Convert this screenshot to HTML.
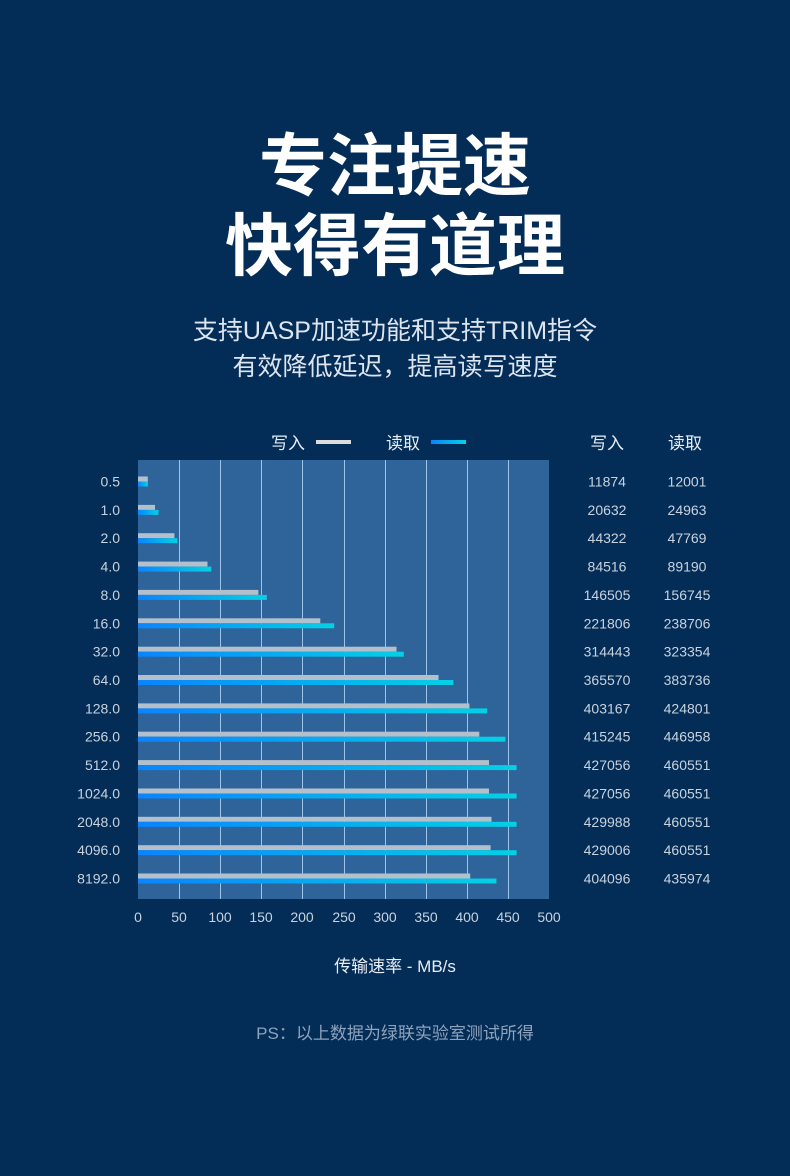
<!DOCTYPE html>
<html><head><meta charset="utf-8"><style>
html,body{margin:0;padding:0;background:#032c57;}
body{width:790px;height:1171px;overflow:hidden;font-family:"Liberation Sans","Noto Sans CJK SC",sans-serif;}
</style></head><body>
<svg width="790" height="1171" xmlns="http://www.w3.org/2000/svg" font-family="Liberation Sans, Noto Sans CJK SC, sans-serif">
<defs><linearGradient id="g" x1="0" x2="1"><stop offset="0" stop-color="#0a84ff"/><stop offset="1" stop-color="#05d0e4"/></linearGradient></defs>
<rect width="790" height="1171" fill="#032c57"/>
<g fill="#fff" font-weight="bold" font-size="68" text-anchor="middle" font-family="Noto Sans CJK SC, sans-serif">
<text x="395" y="190">专注提速</text>
<text x="395" y="270">快得有道理</text>
</g>
<g fill="#dde5ef" font-size="25" text-anchor="middle" font-family="Liberation Sans, Noto Sans CJK SC, sans-serif">
<text x="395" y="339">支持UASP加速功能和支持TRIM指令</text>
<text x="395" y="375">有效降低延迟，提高读写速度</text>
</g>
<g fill="#e8eef5" font-size="17" font-family="Noto Sans CJK SC, sans-serif">
<text x="271" y="449">写入</text><rect x="316" y="440" width="35" height="4" fill="#dcdcdc"/>
<text x="386" y="449">读取</text><rect x="431" y="440" width="35" height="4" fill="url(#g)"/>
<text x="590" y="449">写入</text><text x="668" y="449">读取</text>
</g>
<rect x="138" y="460" width="411" height="439" fill="#2e6499"/>
<g stroke="#9cc3ea" stroke-width="1">
<line x1="179.5" y1="460" x2="179.5" y2="899"/><line x1="220.5" y1="460" x2="220.5" y2="899"/><line x1="261.5" y1="460" x2="261.5" y2="899"/><line x1="302.5" y1="460" x2="302.5" y2="899"/><line x1="344.5" y1="460" x2="344.5" y2="899"/><line x1="385.5" y1="460" x2="385.5" y2="899"/><line x1="426.5" y1="460" x2="426.5" y2="899"/><line x1="467.5" y1="460" x2="467.5" y2="899"/><line x1="508.5" y1="460" x2="508.5" y2="899"/>
</g>
<g fill="#b4bfcc">
<rect x="138" y="476.5" width="9.8" height="5"/><rect x="138" y="504.9" width="17" height="5"/><rect x="138" y="533.2" width="36.4" height="5"/><rect x="138" y="561.6" width="69.5" height="5"/><rect x="138" y="589.9" width="120.4" height="5"/><rect x="138" y="618.3" width="182.3" height="5"/><rect x="138" y="646.7" width="258.5" height="5"/><rect x="138" y="675" width="300.5" height="5"/><rect x="138" y="703.4" width="331.4" height="5"/><rect x="138" y="731.7" width="341.3" height="5"/><rect x="138" y="760.1" width="351" height="5"/><rect x="138" y="788.5" width="351" height="5"/><rect x="138" y="816.8" width="353.5" height="5"/><rect x="138" y="845.2" width="352.6" height="5"/><rect x="138" y="873.5" width="332.2" height="5"/>
</g>
<g fill="url(#g)">
<rect x="138" y="481.5" width="9.9" height="5"/><rect x="138" y="509.9" width="20.5" height="5"/><rect x="138" y="538.2" width="39.3" height="5"/><rect x="138" y="566.6" width="73.3" height="5"/><rect x="138" y="594.9" width="128.8" height="5"/><rect x="138" y="623.3" width="196.2" height="5"/><rect x="138" y="651.7" width="265.8" height="5"/><rect x="138" y="680" width="315.4" height="5"/><rect x="138" y="708.4" width="349.2" height="5"/><rect x="138" y="736.7" width="367.4" height="5"/><rect x="138" y="765.1" width="378.6" height="5"/><rect x="138" y="793.5" width="378.6" height="5"/><rect x="138" y="821.8" width="378.6" height="5"/><rect x="138" y="850.2" width="378.6" height="5"/><rect x="138" y="878.5" width="358.4" height="5"/>
</g>
<g fill="#c9d3de" font-size="14" text-anchor="end">
<text x="120" y="486.5">0.5</text><text x="120" y="514.9">1.0</text><text x="120" y="543.2">2.0</text><text x="120" y="571.6">4.0</text><text x="120" y="599.9">8.0</text><text x="120" y="628.3">16.0</text><text x="120" y="656.7">32.0</text><text x="120" y="685">64.0</text><text x="120" y="713.4">128.0</text><text x="120" y="741.7">256.0</text><text x="120" y="770.1">512.0</text><text x="120" y="798.5">1024.0</text><text x="120" y="826.8">2048.0</text><text x="120" y="855.2">4096.0</text><text x="120" y="883.5">8192.0</text>
</g>
<g fill="#c9d3de" font-size="14" text-anchor="middle">
<text x="607" y="486.5">11874</text><text x="607" y="514.9">20632</text><text x="607" y="543.2">44322</text><text x="607" y="571.6">84516</text><text x="607" y="599.9">146505</text><text x="607" y="628.3">221806</text><text x="607" y="656.7">314443</text><text x="607" y="685">365570</text><text x="607" y="713.4">403167</text><text x="607" y="741.7">415245</text><text x="607" y="770.1">427056</text><text x="607" y="798.5">427056</text><text x="607" y="826.8">429988</text><text x="607" y="855.2">429006</text><text x="607" y="883.5">404096</text>
<text x="687" y="486.5">12001</text><text x="687" y="514.9">24963</text><text x="687" y="543.2">47769</text><text x="687" y="571.6">89190</text><text x="687" y="599.9">156745</text><text x="687" y="628.3">238706</text><text x="687" y="656.7">323354</text><text x="687" y="685">383736</text><text x="687" y="713.4">424801</text><text x="687" y="741.7">446958</text><text x="687" y="770.1">460551</text><text x="687" y="798.5">460551</text><text x="687" y="826.8">460551</text><text x="687" y="855.2">460551</text><text x="687" y="883.5">435974</text>
<text x="138" y="922">0</text><text x="179" y="922">50</text><text x="220" y="922">100</text><text x="261" y="922">150</text><text x="302" y="922">200</text><text x="344" y="922">250</text><text x="385" y="922">300</text><text x="426" y="922">350</text><text x="467" y="922">400</text><text x="508" y="922">450</text><text x="549" y="922">500</text>
</g>
<text x="395" y="972" fill="#e8eef5" font-size="17" text-anchor="middle">传输速率 - MB/s</text>
<text x="395" y="1039" fill="#8ea3bd" font-size="17" text-anchor="middle">PS：以上数据为绿联实验室测试所得</text>
</svg>
</body></html>
